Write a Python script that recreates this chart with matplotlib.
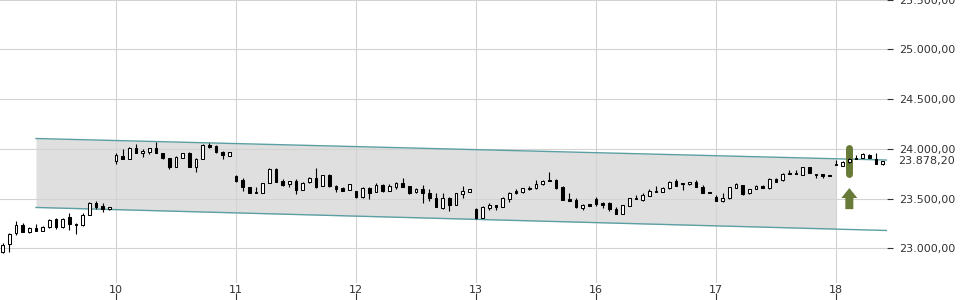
import numpy as np
import matplotlib
matplotlib.use("Agg")
import matplotlib.pyplot as plt
from matplotlib.patches import FancyArrow
from matplotlib.transforms import blended_transform_factory

# candles, one list row per trading day (9, 10, 11, 12, 13, 16, 17, 18)
opens = [
    22968, 23042, 23153, 23236, 23169, 23203, 23179, 23213, 23293, 23213, 23320, 23249, 23236, 23337, 23454, 23427, 23394,
    23882, 23930, 23896, 24007, 23957, 23973, 24007, 23957, 23907, 23822, 23913, 23963, 23822, 23896, 24040, 24030, 23973, 23933,
    23729, 23688, 23615, 23571, 23555, 23655, 23799, 23681, 23645, 23678, 23588, 23665, 23706, 23628, 23739, 23628, 23611, 23588,
    23578, 23515, 23605, 23571, 23638, 23581, 23621, 23661, 23628, 23571, 23595, 23555, 23505, 23404, 23505, 23437, 23548, 23571,
    23394, 23310, 23404, 23437, 23420, 23498, 23578, 23565, 23611, 23605, 23645, 23688, 23688, 23621, 23494, 23487, 23410, 23444,
    23494, 23454, 23454, 23394, 23347, 23430, 23505, 23487, 23531, 23581, 23571, 23605, 23678, 23655, 23645, 23665, 23621, 23565,
    23521, 23480, 23505, 23611, 23638, 23555, 23595, 23628, 23605, 23695, 23688, 23762, 23762, 23739, 23816, 23749, 23749, 23732,
    23849, 23832, 23869, 23906, 23913, 23940, 23896, 23846,
]
highs = [
    23058, 23159, 23279, 23253, 23213, 23243, 23226, 23293, 23310, 23303, 23354, 23253, 23354, 23464, 23477, 23454, 23417,
    23957, 24000, 24020, 24047, 23997, 24013, 24067, 23960, 23913, 23930, 23960, 23973, 23913, 24047, 24063, 24040, 23975, 23970,
    23739, 23706, 23621, 23615, 23661, 23806, 23806, 23695, 23680, 23698, 23664, 23722, 23806, 23742, 23746, 23638, 23621, 23651,
    23581, 23615, 23621, 23655, 23645, 23645, 23665, 23712, 23630, 23605, 23638, 23595, 23561, 23555, 23515, 23558, 23628, 23598,
    23410, 23430, 23454, 23440, 23521, 23565, 23595, 23608, 23628, 23688, 23688, 23772, 23698, 23631, 23555, 23505, 23444, 23447,
    23515, 23470, 23464, 23420, 23440, 23508, 23538, 23555, 23595, 23628, 23621, 23674, 23695, 23655, 23665, 23688, 23638, 23565,
    23538, 23561, 23618, 23655, 23641, 23598, 23638, 23638, 23706, 23706, 23756, 23789, 23789, 23819, 23822, 23749, 23749, 23732,
    23894, 23875, 23905, 23940, 23957, 23950, 23963, 23880,
]
lows = [
    22952, 22968, 23136, 23163, 23159, 23176, 23173, 23209, 23193, 23209, 23186, 23143, 23229, 23334, 23397, 23364, 23391,
    23846, 23896, 23896, 23957, 23917, 23947, 23957, 23904, 23799, 23816, 23910, 23822, 23772, 23896, 24007, 23957, 23900, 23930,
    23671, 23581, 23555, 23561, 23555, 23655, 23671, 23628, 23615, 23548, 23585, 23655, 23605, 23625, 23621, 23571, 23578, 23585,
    23512, 23512, 23494, 23571, 23571, 23581, 23595, 23621, 23545, 23555, 23460, 23480, 23420, 23397, 23380, 23434, 23505, 23568,
    23297, 23310, 23387, 23387, 23420, 23470, 23545, 23562, 23588, 23598, 23638, 23678, 23598, 23487, 23480, 23410, 23387, 23427,
    23427, 23404, 23380, 23347, 23344, 23427, 23498, 23480, 23531, 23571, 23571, 23602, 23631, 23588, 23638, 23615, 23561, 23560,
    23480, 23470, 23502, 23611, 23538, 23552, 23595, 23605, 23598, 23671, 23681, 23746, 23746, 23736, 23756, 23712, 23706, 23727,
    23839, 23829, 23862, 23896, 23913, 23913, 23846, 23843,
]
closes = [
    23035, 23143, 23236, 23169, 23203, 23179, 23213, 23286, 23213, 23293, 23243, 23233, 23337, 23454, 23420, 23394, 23414,
    23940, 23896, 24007, 23957, 23983, 24007, 23957, 23907, 23816, 23917, 23957, 23822, 23900, 24040, 24023, 23967, 23940, 23967,
    23681, 23615, 23561, 23561, 23655, 23799, 23671, 23638, 23678, 23588, 23661, 23712, 23621, 23739, 23628, 23595, 23581, 23648,
    23515, 23605, 23555, 23638, 23581, 23628, 23655, 23621, 23555, 23595, 23561, 23505, 23420, 23505, 23437, 23555, 23581, 23595,
    23310, 23420, 23437, 23420, 23505, 23555, 23555, 23605, 23598, 23648, 23678, 23678, 23605, 23487, 23480, 23414, 23437, 23430,
    23444, 23437, 23394, 23347, 23437, 23505, 23498, 23538, 23581, 23571, 23605, 23671, 23631, 23645, 23665, 23621, 23561, 23560,
    23480, 23505, 23615, 23645, 23545, 23595, 23628, 23605, 23695, 23671, 23749, 23746, 23746, 23816, 23756, 23739, 23732, 23727,
    23839, 23872, 23896, 23896, 23947, 23913, 23846, 23878.2,
]
first_candle = 1            # first visible bar is the 2nd of day 9
bars_per_day = 18
day_labels = ["9", "10", "11", "12", "13", "16", "17", "18"]
y_ticks = [23000, 23500, 24000, 24500, 25000, 25500]
last_price = 23878.2

# trend channel (start/end in bar units) and its shaded part
chan_x = [6, 134]
chan_top = [24105, 23888]
chan_bot = [23412, 23180]
shade_end = 126

# buy signal on day 18
signal_bar = 128
signal_hi, signal_lo = 24010, 23752
arrow_top, arrow_bot = 23607, 23395


def de_fmt(v):
    s = f"{v:,.2f}"
    return s.replace(",", "X").replace(".", ",").replace("X", ".")


W, H = 960, 300
fig = plt.figure(figsize=(W / 100, H / 100), dpi=100)
# axes in pixels: x from -6 to 887, y from top -1 to 283
ax = fig.add_axes([-6 / W, 17 / H, 893 / W, 284 / H])
ax.set_xlim(-0.3, 133.65)
ax.set_ylim(22653, 25507)

x = np.arange(first_candle, first_candle + len(opens))
o = np.array(opens, float)
h = np.array(highs, float)
l = np.array(lows, float)
c = np.array(closes, float)
up = c >= o

# channel
xs = np.linspace(chan_x[0], shade_end, 50)
ax.fill_between(xs, np.interp(xs, chan_x, chan_bot), np.interp(xs, chan_x, chan_top),
                color="#dfdfdf", lw=0, zorder=0.2)
ax.plot(chan_x, chan_top, color="#5b9fa2", lw=1.0, zorder=2)
ax.plot(chan_x, chan_bot, color="#5b9fa2", lw=1.0, zorder=2)

# signal marker
sig_col = "#687a37"
ax.plot([signal_bar, signal_bar], [signal_hi, signal_lo], color=sig_col, lw=5,
        solid_capstyle="round", zorder=2.5)
ax.add_patch(FancyArrow(signal_bar, arrow_bot, 0, arrow_top - arrow_bot, width=1.2,
                        head_width=2.4, head_length=100, length_includes_head=True,
                        color=sig_col, lw=0, zorder=2.5))

# candles
ax.vlines(x, l, h, color="black", lw=0.8, zorder=3)
body_lo = np.minimum(o, c)
body_h = np.maximum(np.abs(c - o), 7)
ax.bar(x, body_h, bottom=body_lo, width=0.42,
       color=np.where(up, "white", "black"), edgecolor="black", lw=0.75, zorder=4)

# axes styling
for s in ax.spines.values():
    s.set_visible(False)
ax.set_axisbelow(True)
day_ticks = [i * bars_per_day for i in range(len(day_labels))]
ax.set_xticks(day_ticks)
ax.set_xticklabels(day_labels)
ax.set_yticks(y_ticks)
ax.set_yticklabels([de_fmt(v) for v in y_ticks])
ax.yaxis.tick_right()
ax.grid(True, color="#d3d3d3", lw=0.8)
ax.tick_params(axis="x", length=0, pad=1.5, labelsize=8, labelcolor="#333333")
ax.tick_params(axis="y", length=4, width=0.8, color="#333333", pad=5,
               labelsize=8, labelcolor="#333333")

# small tick marks under the day labels
sec = ax.secondary_xaxis(-0.036)
sec.spines["bottom"].set_visible(False)
sec.set_xticks(day_ticks)
sec.tick_params(axis="x", length=5, width=0.8, color="#333333", labelbottom=False)

# current price label
tr = blended_transform_factory(ax.transAxes, ax.transData)
ax.text(1 + 11 / 893, last_price, de_fmt(last_price), transform=tr, fontsize=8,
        color="#333333", va="center", ha="left",
        bbox=dict(facecolor="white", edgecolor="none", pad=0.6), clip_on=False)

fig.savefig("out.png", dpi=100)
